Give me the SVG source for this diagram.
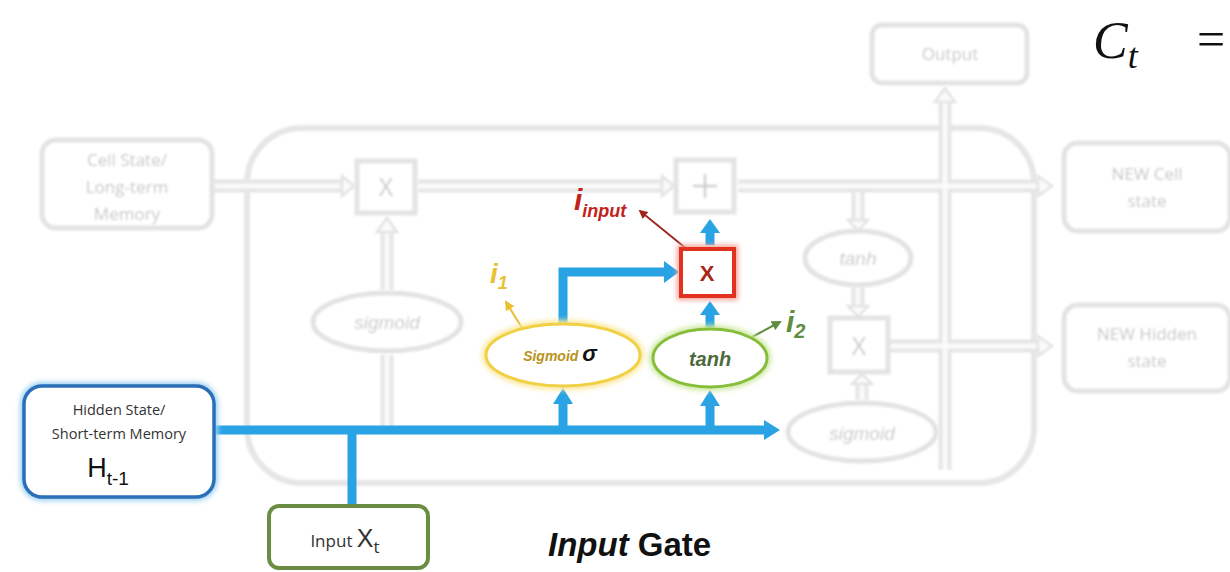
<svg xmlns="http://www.w3.org/2000/svg" width="1230" height="572" viewBox="0 0 1230 572">
<defs>
<style>
.gbox{fill:#fff;stroke:#e3e3e3;stroke-width:5}
.gtxt{font-family:"Open Sans","Liberation Sans",Arial,sans-serif;fill:#c6c6c6;font-size:17px;text-anchor:middle}
.gx{font-family:"Open Sans","Liberation Sans",Arial,sans-serif;fill:#cbcbcb;font-size:25px;text-anchor:middle}
.gital{font-family:"Liberation Sans",Arial,sans-serif;fill:#cbcbcb;font-size:19px;font-style:italic;text-anchor:middle}
.gpipe{fill:none;stroke:#e6e6e6;stroke-width:13}
.gpipein{fill:none;stroke:#fafafa;stroke-width:5}
.ghead{fill:#fafafa;stroke:#e3e3e3;stroke-width:2.5}
.blue{fill:none;stroke:#29a3e3;stroke-width:9}
.bluef{fill:#29a3e3}
.lbl{font-family:"Liberation Sans",Arial,sans-serif;font-weight:bold;font-style:italic}
</style>
<filter id="soft" x="-10%" y="-10%" width="120%" height="120%"><feGaussianBlur stdDeviation="1.2"/></filter>
<filter id="glow" x="-20%" y="-20%" width="140%" height="140%"><feGaussianBlur stdDeviation="2.5"/></filter>
<marker id="ay" viewBox="0 0 10 10" refX="8" refY="5" markerWidth="5" markerHeight="5" orient="auto"><path d="M0,0L10,5L0,10z" fill="#e8c030"/></marker>
<marker id="ag" viewBox="0 0 10 10" refX="8" refY="5" markerWidth="5" markerHeight="5" orient="auto"><path d="M0,0L10,5L0,10z" fill="#5f8c3e"/></marker>
<marker id="ar" viewBox="0 0 10 10" refX="8" refY="5" markerWidth="5" markerHeight="5" orient="auto"><path d="M0,0L10,5L0,10z" fill="#a0231a"/></marker>
</defs>
<rect width="1230" height="572" fill="#fff"/>

<g id="cell-frame" filter="url(#soft)">
<rect x="247" y="128" width="787" height="355" rx="55" fill="none" stroke="#e6e6e6" stroke-width="6"/>
</g>

<g id="gray-pipes" filter="url(#soft)">
<path class="gpipe" d="M212,186H344M418,186H664M738,186H1040M945,470V100M888,346H1040M387,430V355M387,290V230M858,192V222M858,287V308M862,400V382"/>
<path class="gpipein" d="M212,186H344M418,186H664M738,186H1040M945,470V100M888,346H1040M387,430V355M387,290V230M858,192V222M858,287V308M862,400V382"/>
<path class="ghead" d="M342,176L354,186L342,196zM662,176L674,186L662,196zM1038,176L1052,186L1038,196zM1038,336L1052,346L1038,356zM935,102L945,88L955,102zM377,232L387,218L397,232zM848,220L858,231L868,220zM848,306L858,317L868,306zM852,384L862,374L872,384z"/>
</g>

<g id="cell-state" filter="url(#soft)">
<rect class="gbox" x="42" y="140" width="170" height="88" rx="14"/>
<text class="gtxt" x="127" y="166">Cell State/</text>
<text class="gtxt" x="127" y="193">Long-term</text>
<text class="gtxt" x="127" y="220">Memory</text>
</g>
<g id="forget-mult" filter="url(#soft)">
<rect class="gbox" x="357" y="161" width="58" height="52"/>
<text class="gx" x="386" y="196">X</text>
</g>
<g id="forget-sigmoid" filter="url(#soft)">
<ellipse cx="387" cy="322" rx="74" ry="29" fill="#fff" stroke="#e3e3e3" stroke-width="5"/>
<text class="gital" x="387" y="329">sigmoid</text>
</g>
<g id="plus" filter="url(#soft)">
<rect class="gbox" x="676" y="160" width="58" height="52"/>
<path d="M705,174V198M693,186H717" stroke="#cfcfcf" stroke-width="2.5" fill="none"/>
</g>
<g id="output" filter="url(#soft)">
<rect class="gbox" x="872" y="25" width="155" height="58" rx="10"/>
<text class="gtxt" x="950" y="60">Output</text>
</g>
<g id="new-cell" filter="url(#soft)">
<rect class="gbox" x="1064" y="143" width="166" height="88" rx="14"/>
<text class="gtxt" x="1147" y="180">NEW Cell</text>
<text class="gtxt" x="1147" y="207">state</text>
</g>
<g id="out-tanh" filter="url(#soft)">
<ellipse cx="858" cy="258" rx="53" ry="27" fill="#fff" stroke="#e3e3e3" stroke-width="5"/>
<text class="gital" x="858" y="265">tanh</text>
</g>
<g id="out-mult" filter="url(#soft)">
<rect class="gbox" x="830" y="318" width="58" height="54"/>
<text class="gx" x="859" y="355">X</text>
</g>
<g id="new-hidden" filter="url(#soft)">
<rect class="gbox" x="1064" y="305" width="166" height="86" rx="14"/>
<text class="gtxt" x="1147" y="340">NEW Hidden</text>
<text class="gtxt" x="1147" y="367">state</text>
</g>
<g id="out-sigmoid" filter="url(#soft)">
<ellipse cx="862" cy="432" rx="74" ry="29" fill="#fff" stroke="#e3e3e3" stroke-width="5"/>
<text class="gital" x="862" y="440">sigmoid</text>
</g>

<g id="connectors">
<path class="blue" d="M215,430H765"/>
<path class="bluef" d="M764,420L780,430L764,440z"/>
<path class="blue" d="M352,430V506"/>
<path class="blue" d="M563,430V403"/>
<path class="bluef" d="M553,404L563,388L573,404z"/>
<path class="blue" d="M710,430V405"/>
<path class="bluef" d="M700,406L710,390L720,406z"/>
<path class="blue" d="M563,323V272H665"/>
<path class="bluef" d="M664,261L679,272L664,283z"/>
<path class="blue" d="M710,327V314"/>
<path class="bluef" d="M700,315L710,301L720,315z"/>
<path class="blue" d="M710,245V232"/>
<path class="bluef" d="M700,233L710,219L720,233z"/>
<line x1="522" y1="328" x2="506" y2="302" stroke="#e8c030" stroke-width="2" marker-end="url(#ay)"/>
<line x1="752" y1="337" x2="780" y2="322" stroke="#5f8c3e" stroke-width="2" marker-end="url(#ag)"/>
<line x1="688" y1="250" x2="640" y2="211" stroke="#a0231a" stroke-width="1.8" marker-end="url(#ar)"/>
</g>

<g id="hidden-state">
<rect x="24" y="386" width="190" height="111" rx="18" fill="none" stroke="#9fd2f2" stroke-width="8" filter="url(#glow)"/>
<rect x="24" y="386" width="190" height="111" rx="18" fill="#fff" stroke="#2a6fb8" stroke-width="3.5"/>
<text x="119" y="415" font-family="Open Sans,Liberation Sans,Arial,sans-serif" font-size="14.5" fill="#333" text-anchor="middle">Hidden State/</text>
<text x="119" y="439" font-family="Open Sans,Liberation Sans,Arial,sans-serif" font-size="14.5" fill="#333" text-anchor="middle">Short-term  Memory</text>
<text x="108" y="477" font-family="Liberation Sans,Arial,sans-serif" font-size="27" fill="#111" text-anchor="middle">H<tspan font-size="19" dy="8">t-1</tspan></text>
</g>
<g id="input-x">
<rect x="269" y="506" width="159" height="62" rx="10" fill="#fff" stroke="#6b8d43" stroke-width="4"/>
<text x="345" y="547" font-family="Open Sans,Liberation Sans,Arial,sans-serif" font-size="17" fill="#333" text-anchor="middle">Input <tspan font-size="25" font-family="Liberation Sans,Arial,sans-serif">X</tspan><tspan font-size="17" dy="6">t</tspan></text>
</g>
<g id="sigmoid-gate">
<ellipse cx="563" cy="355" rx="77" ry="31" fill="none" stroke="#fbe79a" stroke-width="8" filter="url(#glow)"/>
<ellipse cx="563" cy="355" rx="77" ry="31" fill="#fff" stroke="#f0d044" stroke-width="3"/>
<text x="560" y="361" class="lbl" font-size="14" fill="#b8931a" text-anchor="middle">Sigmoid <tspan font-size="22" fill="#111">σ</tspan></text>
</g>
<g id="tanh-gate">
<ellipse cx="710" cy="358" rx="57" ry="29" fill="none" stroke="#cde8a0" stroke-width="8" filter="url(#glow)"/>
<ellipse cx="710" cy="358" rx="57" ry="29" fill="#fff" stroke="#86be3a" stroke-width="3"/>
<text x="710" y="366" class="lbl" font-size="20" fill="#4d6a3e" text-anchor="middle">tanh</text>
</g>
<g id="input-mult">
<rect x="681" y="249" width="53" height="47" fill="none" stroke="#f5a097" stroke-width="8" filter="url(#glow)"/>
<rect x="681" y="249" width="53" height="47" fill="#fff" stroke="#e0321f" stroke-width="4"/>
<text x="707" y="281" font-family="Liberation Sans,Arial,sans-serif" font-weight="bold" font-size="22" fill="#a8261a" text-anchor="middle">X</text>
</g>

<g id="labels">
<text x="574" y="210" class="lbl" font-size="30" fill="#c3221a">i<tspan font-size="18" dy="7">input</tspan></text>
<text x="490" y="283" class="lbl" font-size="28" fill="#e8c030">i<tspan font-size="18" dy="6">1</tspan></text>
<text x="786" y="332" class="lbl" font-size="30" fill="#5f8c3e">i<tspan font-size="20" dy="6">2</tspan></text>
<text x="1093" y="58" font-family="Liberation Serif,serif" font-style="italic" font-size="52" fill="#111">C<tspan font-size="36" dy="10">t</tspan></text>
<text x="1197" y="56" font-family="Liberation Serif,serif" font-size="50" fill="#111">=</text>
<text x="548" y="556" font-family="Liberation Sans,Arial,sans-serif" font-weight="bold" font-size="33" fill="#111"><tspan font-style="italic">Input</tspan> Gate</text>
</g>
</svg>
